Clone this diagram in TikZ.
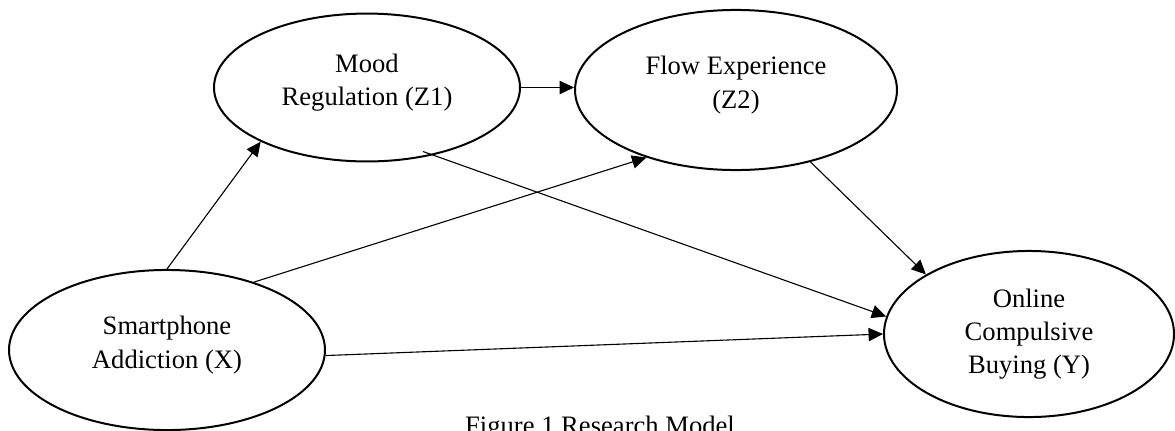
\documentclass[tikz,border=0pt]{standalone}
\usepackage{fontspec}
\setmainfont{Liberation Serif}
\usetikzlibrary{shapes.geometric,arrows.meta}

\begin{document}
\begin{tikzpicture}[x=0.451pt, y=-0.451pt,
    var/.style={ellipse, draw, line width=0.9pt, inner sep=0pt, align=center, font=\fontsize{12}{15}\selectfont},
    up/.style={text depth=7pt},
    link/.style={-{Triangle[length=6.5pt, width=6pt]}, line width=0.5pt}]
  \useasboundingbox (0,0) rectangle (1175,430);
  \node [var, up, minimum width=138pt, minimum height=66.7pt] (mood) at (367,87.5) {Mood\\Regulation (Z1)};
  \node [var, up, minimum width=145.2pt, minimum height=72.2pt] (flow) at (736,90) {Flow Experience\\(Z2)};
  \node [var, up, minimum width=142.5pt, minimum height=72.2pt] (smart) at (167,350) {Smartphone\\Addiction (X)};
  \node [var, minimum width=130.8pt, minimum height=74.9pt] (buy) at (1029,334) {Online\\Compulsive\\Buying (Y)};
  \coordinate (mz) at ([shift={(56,64)}]mood.center);
  \draw [link] (mood.east) -- (mood.east -| flow.west);
  \draw [link] (smart.north) -- (mood.207);
  \draw [link] (smart.38) -- (flow.217);
  \draw [link] (smart.-2) -- (buy.west);
  \draw [link] (mz) -- (buy.173);
  \draw [link] (flow.-44) -- (buy.150);
  \node [font=\fontsize{12}{15}\selectfont, anchor=base] (cap) at (600,434.6) {Figure 1 Research Model};
\end{tikzpicture}
\end{document}
